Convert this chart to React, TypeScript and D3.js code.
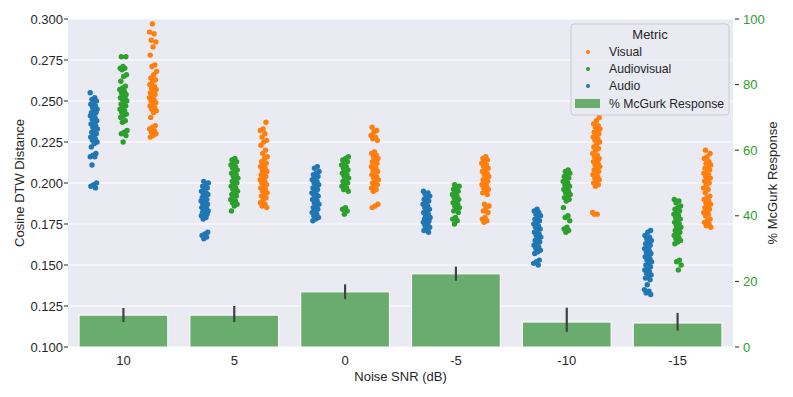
import * as d3 from "d3";
import React from "react";

const snrLabels = ["10", "5", "0", "-5", "-10", "-15"];
const metrics = ["Audio", "Audiovisual", "Visual"];
const metricColors = ["#1f77b4", "#2ca02c", "#ff7f0e"];

// cosine DTW distance per SNR level, one array per metric
const audio = [
  [0.255, 0.252, 0.251, 0.25, 0.249, 0.248, 0.247, 0.246, 0.245, 0.244, 0.243, 0.243, 0.242, 0.241, 0.24, 0.239, 0.238, 0.237, 0.236, 0.235, 0.234, 0.233, 0.232, 0.231, 0.23, 0.229, 0.228, 0.227, 0.226, 0.225, 0.224, 0.222, 0.218, 0.217, 0.216, 0.216, 0.211, 0.2, 0.199, 0.198, 0.197],
  [0.201, 0.2, 0.199, 0.198, 0.197, 0.196, 0.195, 0.194, 0.193, 0.193, 0.192, 0.191, 0.19, 0.189, 0.189, 0.188, 0.187, 0.187, 0.186, 0.185, 0.185, 0.184, 0.183, 0.183, 0.182, 0.181, 0.181, 0.18, 0.179, 0.178, 0.17, 0.169, 0.168, 0.167, 0.166],
  [0.21, 0.209, 0.207, 0.206, 0.205, 0.204, 0.203, 0.202, 0.201, 0.2, 0.199, 0.198, 0.197, 0.196, 0.195, 0.194, 0.193, 0.193, 0.192, 0.191, 0.19, 0.189, 0.188, 0.187, 0.186, 0.185, 0.184, 0.183, 0.182, 0.181, 0.18, 0.179, 0.178, 0.177],
  [0.195, 0.194, 0.193, 0.192, 0.191, 0.19, 0.189, 0.188, 0.187, 0.186, 0.185, 0.184, 0.183, 0.182, 0.181, 0.18, 0.179, 0.179, 0.178, 0.177, 0.176, 0.176, 0.175, 0.174, 0.173, 0.172, 0.171, 0.17],
  [0.184, 0.183, 0.182, 0.181, 0.18, 0.179, 0.178, 0.177, 0.176, 0.175, 0.174, 0.173, 0.172, 0.171, 0.17, 0.169, 0.168, 0.167, 0.166, 0.165, 0.164, 0.163, 0.162, 0.161, 0.16, 0.159, 0.158, 0.157, 0.153, 0.152, 0.151, 0.15],
  [0.171, 0.17, 0.168, 0.167, 0.166, 0.165, 0.164, 0.163, 0.162, 0.161, 0.16, 0.159, 0.158, 0.157, 0.156, 0.155, 0.154, 0.153, 0.152, 0.151, 0.15, 0.149, 0.148, 0.147, 0.146, 0.145, 0.144, 0.143, 0.142, 0.141, 0.138, 0.135, 0.134, 0.133, 0.132],
];
const audiovisual = [
  [0.277, 0.277, 0.271, 0.27, 0.27, 0.269, 0.266, 0.265, 0.262, 0.259, 0.258, 0.257, 0.256, 0.255, 0.254, 0.253, 0.252, 0.252, 0.251, 0.25, 0.249, 0.248, 0.247, 0.246, 0.245, 0.244, 0.243, 0.242, 0.241, 0.24, 0.238, 0.237, 0.232, 0.231, 0.23, 0.229, 0.225],
  [0.215, 0.214, 0.213, 0.212, 0.211, 0.21, 0.209, 0.208, 0.207, 0.206, 0.205, 0.204, 0.203, 0.202, 0.201, 0.2, 0.199, 0.198, 0.197, 0.196, 0.195, 0.194, 0.193, 0.192, 0.191, 0.19, 0.189, 0.188, 0.187, 0.186, 0.183],
  [0.216, 0.215, 0.214, 0.213, 0.212, 0.211, 0.21, 0.209, 0.208, 0.207, 0.206, 0.205, 0.204, 0.203, 0.202, 0.201, 0.2, 0.199, 0.198, 0.197, 0.196, 0.195, 0.185, 0.184, 0.183, 0.181],
  [0.199, 0.198, 0.197, 0.196, 0.195, 0.194, 0.193, 0.192, 0.191, 0.19, 0.189, 0.188, 0.187, 0.186, 0.185, 0.184, 0.183, 0.182, 0.179, 0.178, 0.177, 0.175],
  [0.208, 0.207, 0.206, 0.205, 0.204, 0.203, 0.202, 0.201, 0.2, 0.199, 0.198, 0.197, 0.196, 0.195, 0.194, 0.193, 0.192, 0.191, 0.19, 0.189, 0.185, 0.18, 0.179, 0.177, 0.173, 0.172, 0.171, 0.17],
  [0.19, 0.189, 0.188, 0.186, 0.185, 0.184, 0.183, 0.182, 0.181, 0.18, 0.179, 0.178, 0.177, 0.176, 0.175, 0.174, 0.173, 0.172, 0.171, 0.17, 0.169, 0.168, 0.167, 0.166, 0.165, 0.164, 0.163, 0.153, 0.152, 0.15, 0.147],
];
const visual = [
  [0.297, 0.292, 0.291, 0.287, 0.286, 0.283, 0.278, 0.272, 0.271, 0.268, 0.266, 0.264, 0.263, 0.262, 0.26, 0.259, 0.258, 0.257, 0.256, 0.255, 0.254, 0.253, 0.252, 0.251, 0.25, 0.249, 0.248, 0.247, 0.246, 0.245, 0.244, 0.243, 0.24, 0.235, 0.234, 0.233, 0.232, 0.231, 0.23, 0.229, 0.228],
  [0.237, 0.233, 0.232, 0.23, 0.228, 0.226, 0.225, 0.223, 0.22, 0.218, 0.216, 0.215, 0.213, 0.212, 0.211, 0.21, 0.209, 0.208, 0.207, 0.206, 0.205, 0.204, 0.203, 0.202, 0.201, 0.2, 0.199, 0.198, 0.197, 0.196, 0.195, 0.194, 0.193, 0.192, 0.191, 0.19, 0.188, 0.187, 0.186, 0.185],
  [0.234, 0.232, 0.231, 0.229, 0.228, 0.227, 0.226, 0.219, 0.218, 0.217, 0.216, 0.215, 0.214, 0.213, 0.212, 0.211, 0.21, 0.209, 0.208, 0.207, 0.206, 0.205, 0.204, 0.203, 0.202, 0.201, 0.2, 0.199, 0.198, 0.197, 0.196, 0.195, 0.187, 0.186, 0.185],
  [0.216, 0.215, 0.214, 0.213, 0.212, 0.211, 0.21, 0.209, 0.208, 0.207, 0.206, 0.205, 0.204, 0.203, 0.202, 0.201, 0.2, 0.199, 0.198, 0.197, 0.196, 0.195, 0.194, 0.193, 0.187, 0.186, 0.185, 0.183, 0.182, 0.179, 0.178, 0.177, 0.176],
  [0.24, 0.238, 0.236, 0.235, 0.234, 0.233, 0.232, 0.231, 0.23, 0.229, 0.228, 0.227, 0.226, 0.225, 0.224, 0.222, 0.221, 0.22, 0.218, 0.217, 0.216, 0.215, 0.214, 0.213, 0.212, 0.211, 0.21, 0.209, 0.208, 0.207, 0.206, 0.205, 0.204, 0.203, 0.202, 0.201, 0.2, 0.199, 0.198, 0.182, 0.181, 0.181],
  [0.22, 0.218, 0.216, 0.215, 0.213, 0.212, 0.211, 0.21, 0.209, 0.208, 0.207, 0.206, 0.205, 0.204, 0.203, 0.202, 0.201, 0.2, 0.199, 0.197, 0.196, 0.194, 0.192, 0.191, 0.19, 0.189, 0.188, 0.187, 0.186, 0.185, 0.184, 0.183, 0.182, 0.181, 0.18, 0.178, 0.177, 0.176, 0.175, 0.174, 0.173],
];
const metricData = [audio, audiovisual, visual];

// % McGurk response (bars) with error bar ends
const mcgurk = [9.7, 9.7, 16.8, 22.3, 7.6, 7.3];
const mcgurkLow = [7.6, 7.6, 14.6, 20.2, 4.6, 5.0];
const mcgurkHigh = [11.9, 12.5, 19.1, 24.5, 12.0, 10.4];

const leftTicks = [0.1, 0.125, 0.15, 0.175, 0.2, 0.225, 0.25, 0.275, 0.3];
const rightTicks = [0, 20, 40, 60, 80, 100];

const W = 793;
const H = 397;
const m = { left: 68, right: 733, top: 19, bottom: 347 };
const font = "'Liberation Sans', Arial, sans-serif";
const textColor = "#262626";

export default function App() {
  const x = d3.scaleBand().domain(snrLabels).range([m.left, m.right]);
  const y = d3.scaleLinear().domain([0.1, 0.3]).range([m.bottom, m.top]);
  const y2 = d3.scaleLinear().domain([0, 100]).range([m.bottom, m.top]);
  const bw = x.bandwidth();
  const dodge = d3.scalePoint().domain(metrics).range([-0.8 / 3, 0.8 / 3]);
  const jitterW = (0.1 / 3) * bw;

  return (
    <svg width={W} height={H} style={{ position: "absolute", left: 0, top: 0 }} fontFamily={font}>
      <rect x={0} y={0} width={W} height={H} fill="#ffffff" />
      <rect x={m.left} y={m.top} width={m.right - m.left} height={m.bottom - m.top} fill="#eaeaf2" />
      {leftTicks.map((t) => (
        <line key={"g" + t} x1={m.left} x2={m.right} y1={y(t)} y2={y(t)} stroke="#ffffff" strokeWidth={1.2} />
      ))}

      {/* strip points */}
      {metrics.map((met, mi) =>
        snrLabels.map((s, si) =>
          metricData[mi][si].map((v, i) => {
            const jit = (((i * 0.618034 + si * 0.37 + mi * 0.21) % 1) - 0.5) * 2 * jitterW;
            const cx = (x(s) as number) + bw / 2 + dodge(met)! * bw + jit;
            return <circle key={met + s + i} cx={cx} cy={y(v)} r={2.7} fill={metricColors[mi]} />;
          })
        )
      )}

      {/* bars on the right axis */}
      {snrLabels.map((s, i) => (
        <g key={"b" + s}>
          <rect
            x={(x(s) as number) + bw * 0.1}
            y={y2(mcgurk[i])}
            width={bw * 0.8}
            height={m.bottom - y2(mcgurk[i])}
            fill="#6aab6e"
            stroke="#ffffff"
            strokeWidth={1}
          />
          <line
            x1={(x(s) as number) + bw / 2}
            x2={(x(s) as number) + bw / 2}
            y1={y2(mcgurkLow[i])}
            y2={y2(mcgurkHigh[i])}
            stroke="#424242"
            strokeWidth={2.2}
          />
        </g>
      ))}

      {/* left axis */}
      {leftTicks.map((t) => (
        <g key={"l" + t}>
          <line x1={m.left - 4} x2={m.left} y1={y(t)} y2={y(t)} stroke={textColor} strokeWidth={1} />
          <text x={m.left - 5} y={y(t)} dy="0.35em" textAnchor="end" fontSize={13} fill={textColor}>
            {t.toFixed(3)}
          </text>
        </g>
      ))}
      {/* right axis */}
      {rightTicks.map((t) => (
        <g key={"r" + t}>
          <line x1={m.right + 2} x2={m.right + 6} y1={y2(t)} y2={y2(t)} stroke={textColor} strokeWidth={1} />
          <text x={m.right + 10} y={y2(t)} dy="0.35em" textAnchor="start" fontSize={13} fill="#2ca02c">
            {t}
          </text>
        </g>
      ))}
      {/* x axis labels */}
      {snrLabels.map((s) => (
        <text key={"x" + s} x={(x(s) as number) + bw / 2} y={365} textAnchor="middle" fontSize={13} fill={textColor}>
          {s}
        </text>
      ))}
      <text x={(m.left + m.right) / 2} y={381} textAnchor="middle" fontSize={13} fill={textColor}>
        Noise SNR (dB)
      </text>
      <text transform={`translate(24,${(m.top + m.bottom) / 2}) rotate(-90)`} textAnchor="middle" fontSize={13} fill={textColor}>
        Cosine DTW Distance
      </text>
      <text transform={`translate(777,${(m.top + m.bottom) / 2}) rotate(-90)`} textAnchor="middle" fontSize={13} fill={textColor}>
        % McGurk Response
      </text>

      {/* legend */}
      <g>
        <rect x={571} y={24} width={158} height={91} rx={3} fill="#eaeaf2" fillOpacity={0.8} stroke="#cccccc" strokeWidth={1} />
        <text x={650} y={39} textAnchor="middle" fontSize={13} fill={textColor}>
          Metric
        </text>
        {[2, 1, 0].map((mi, k) => (
          <g key={"lg" + mi}>
            <circle cx={588} cy={52 + k * 17} r={2} fill={metricColors[mi]} />
            <text x={609} y={52 + k * 17} dy="0.35em" fontSize={12.2} fill={textColor}>
              {metrics[mi]}
            </text>
          </g>
        ))}
        <rect x={575} y={99} width={25} height={9} fill="#6aab6e" />
        <text x={609} y={104} dy="0.35em" fontSize={12.2} fill={textColor}>
          % McGurk Response
        </text>
      </g>
    </svg>
  );
}
